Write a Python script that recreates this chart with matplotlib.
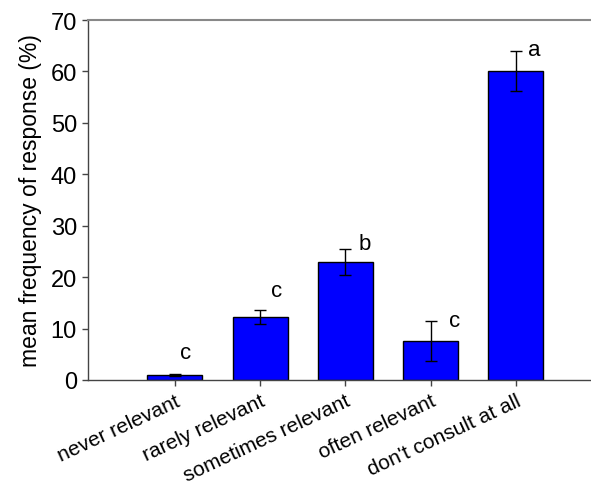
import matplotlib
matplotlib.use("Agg")
import matplotlib.pyplot as plt

categories = ["never relevant", "rarely relevant", "sometimes relevant",
              "often relevant", "don't consult at all"]
means = [1.0, 12.2, 22.9, 7.6, 60.0]
errors = [0.25, 1.4, 2.55, 3.95, 3.9]
letters = ["c", "c", "b", "c", "a"]

plt.rcParams["font.family"] = ["Liberation Sans", "DejaVu Sans"]

fig = plt.figure(figsize=(5.91, 4.89), dpi=100)
ax = fig.add_axes([88 / 591, 108 / 489, 503 / 591, 360 / 489])

x = list(range(len(categories)))
ax.bar(x, means, width=0.645, color="#0000FF", edgecolor="black", linewidth=1.0,
       zorder=2)
ax.errorbar(x, means, yerr=errors, fmt="none", ecolor="black", elinewidth=1.0,
            capsize=4, capthick=1.0, zorder=3)

# significance letters, nudged by hand like the original
nudges = [(8, 15), (12, 14), (14, 4), (17, 0), (13, 1)]
for i, (m, e, lab) in enumerate(zip(means, errors, letters)):
    dx, dy = nudges[i]
    ax.annotate(lab, xy=(i, m + e), xytext=(dx, dy), textcoords="offset points",
                ha="center", va="center", fontsize=16)

ax.set_xlim(-1.02, 4.88)
ax.set_ylim(0, 70)
ax.set_yticks(range(0, 71, 10))
ax.set_xticks(x)
ax.set_xticklabels(categories, rotation=25, ha="right", rotation_mode="anchor",
                   fontsize=15)
ax.tick_params(axis="y", labelsize=17, direction="out", length=4, width=1,
               color="#444444", pad=4)
ax.tick_params(axis="x", direction="out", length=4, width=1, color="#444444",
               pad=4)
ax.set_ylabel("mean frequency of response (%)", fontsize=16.5, labelpad=6)

for side in ["left", "bottom"]:
    ax.spines[side].set_color("#444444")
    ax.spines[side].set_linewidth(1.0)
ax.spines["top"].set_color("#888888")
ax.spines["top"].set_linewidth(1.5)
ax.spines["right"].set_visible(False)

fig.savefig("out.png", dpi=100)
